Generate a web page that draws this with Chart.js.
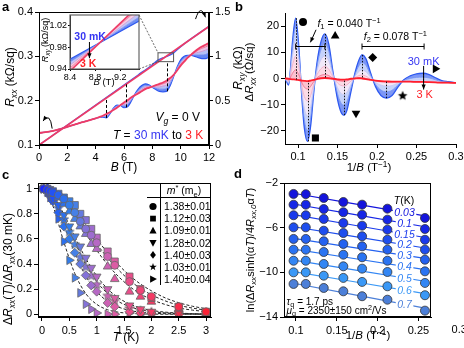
<!DOCTYPE html>
<html>
<head>
<meta charset="utf-8">
<script src="https://cdn.jsdelivr.net/npm/chart.js@4.4.1/dist/chart.umd.min.js"></script>
<style>
  html, body { margin: 0; padding: 0; background: #fff; }
  #fig { position: relative; width: 464px; height: 348px; overflow: hidden; background: #fff; }
  #fig canvas { position: absolute; }
  .tag { position: absolute; font: bold 13px/13px "Liberation Sans", Arial, sans-serif; color: #000; }
</style>
</head>
<body>
<div id="fig">
  <canvas id="cvA" width="250" height="175" style="left:0;top:0"></canvas>
  <canvas id="cvB" width="240" height="175" style="left:232px;top:0"></canvas>
  <canvas id="cvC" width="232" height="176" style="left:0;top:172px"></canvas>
  <canvas id="cvD" width="240" height="176" style="left:232px;top:172px"></canvas>
  <canvas id="cvI" width="130" height="82" style="left:40px;top:8px"></canvas>
  <div class="tag" style="left:2px;top:0">a</div>
  <div class="tag" style="left:235px;top:0">b</div>
  <div class="tag" style="left:2px;top:168px">c</div>
  <div class="tag" style="left:234px;top:167px">d</div>
</div>
<script>
'use strict';
const F = '"Liberation Sans", Arial, Helvetica, sans-serif';
Chart.defaults.font.family = F;
Chart.defaults.color = '#000';
const BLUE_TXT = '#3535f2', RED_TXT = '#ff2026';

// ── a: R_xx (left) and R_xy (right) vs B, 30 mK .. 3 K
const aB       = [0,1,2,3,4,4.25,4.5,4.75,5,5.25,5.5,5.75,6,6.25,6.5,6.75,7,7.25,7.5,7.75,8,8.25,8.5,8.75,9,9.25,9.5,9.75,10,10.25,10.5,10.75,11,11.25,11.5,11.75,12];
const aRxxRed  = [.127,.132,.141,.151,.160,.163,.166,.170,.174,.179,.184,.190,.196,.201,.207,.212,.216,.221,.226,.229,.232,.235,.238,.241,.245,.251,.258,.268,.279,.288,.297,.304,.311,.317,.322,.326,.330];
const aRxx16K  = [.127,.132,.141,.151,.160,.163,.166,.169,.173,.180,.185,.190,.194,.199,.206,.212,.218,.223,.228,.230,.232,.234,.235,.238,.241,.248,.257,.269,.281,.290,.298,.304,.309,.314,.318,.321,.325];
const aRxx08K  = [.127,.132,.141,.151,.160,.163,.165,.166,.172,.181,.186,.190,.191,.195,.203,.213,.220,.226,.231,.232,.231,.231,.231,.233,.235,.244,.256,.271,.284,.293,.299,.303,.307,.309,.311,.314,.317];
const aRxx03K  = [.127,.132,.141,.151,.160,.162,.164,.164,.171,.182,.188,.189,.188,.191,.201,.213,.223,.230,.234,.234,.231,.228,.226,.226,.228,.238,.255,.274,.288,.296,.301,.303,.303,.303,.303,.304,.308];
const aRxxBlue = [.127,.132,.141,.151,.160,.162,.163,.161,.170,.183,.190,.189,.184,.186,.198,.214,.226,.234,.238,.236,.230,.225,.221,.220,.221,.233,.254,.276,.292,.300,.302,.302,.300,.297,.295,.295,.298];
const aRxyB     = [0, 12];
const aRxyRed   = [0, 1.338];
const aRxyBlueB = [0, 7, 8, 8.4, 8.9, 9.4, 10, 12];
const aRxyBlue  = [0, 0.79, 0.905, 0.957, 0.992, 1.027, 1.11, 1.338];
const aDashB  = [4.73, 6.14, 9.04];
const aDashLo = [0.161, 0.185, 0.221];
const aDashHi = [0.527, 0.685, 0.94];
const aXTicks  = [0, 2, 4, 6, 8, 10, 12];
const aYTicks  = [0.1, 0.2, 0.3, 0.4];
const aY2Ticks = [0, 0.5, 1, 1.5];

// inset of a: R_xy around 8.4..9.5 T
const iB       = [8.4, 9.5];
const iRxyBlue = [0.958, 1.029];
const iRxy03K  = [0.953, 1.036];
const iRxy08K  = [0.947, 1.044];
const iRxy16K  = [0.942, 1.052];
const iRxyRed  = [0.936, 1.058];
const iXTicks  = [8.4, 8.8, 9.2];
const iYTicks  = [0.94, 0.98, 1.02];

// ── b: ΔR_xx vs 1/B
const bX    = [0.0835,0.086,0.088,0.090,0.093,0.097,0.101,0.105,0.108,0.112,0.116,0.120,0.124,0.129,0.134,0.139,0.144,0.150,0.154,0.158,0.162,0.167,0.172,0.177,0.181,0.186,0.192,0.198,0.205,0.212,0.219,0.226,0.234,0.242,0.250,0.258,0.266,0.274,0.282,0.290,0.300];
const bBlue = [0,-1.5,-2.5,2,14,23,12,-8,-19,-24,-18,-5,6,14,17,13,3,-8,-12.5,-14,-12,-5,2,7,9,7.5,2,-3,-6.5,-7.5,-6.5,-3.5,-0.5,1,1.8,2,1.5,0.3,-0.8,-1.2,-1.6];
const bT1   = [0,-1.3,-2.1,1.7,11.9,19.5,10.1,-6.7,-15.7,-19.9,-14.9,-4.2,4.6,10.9,13.3,10.2,2.3,-5.8,-9.1,-10.2,-8.7,-3.6,1.4,4.8,6.1,5.0,1.2,-2.2,-4.4,-5.1,-4.5,-2.6,-0.8,0.0,0.4,0.5,0.2,-0.5,-1.2,-1.4,-1.6];
const bT2   = [0,-0.9,-1.6,1.2,8.6,14.1,7.2,-5.0,-11.4,-14.3,-10.8,-3.1,2.9,7.1,8.6,6.6,1.5,-3.5,-5.5,-6.1,-5.2,-2.2,0.7,2.6,3.2,2.6,0.4,-1.4,-2.5,-2.9,-2.7,-1.8,-1.0,-0.8,-0.7,-0.6,-0.8,-1.1,-1.4,-1.5,-1.7];
const bT3   = [0,-0.6,-1.0,0.6,5.1,8.5,4.2,-3.2,-6.9,-8.6,-6.5,-2.0,1.4,3.7,4.6,3.5,0.7,-1.7,-2.6,-2.8,-2.4,-1.0,0.3,1.1,1.3,0.9,-0.2,-1.0,-1.4,-1.6,-1.6,-1.4,-1.1,-1.1,-1.2,-1.2,-1.3,-1.4,-1.6,-1.6,-1.7];
const bT4   = [0,-0.2,-0.5,0.2,2.0,3.3,1.4,-1.7,-3.3,-4.0,-3.0,-1.1,0.3,1.2,1.5,1.1,0.1,-0.7,-1.0,-1.1,-0.9,-0.3,0.1,0.3,0.3,0,-0.4,-0.8,-1.1,-1.2,-1.3,-1.2,-1.2,-1.2,-1.3,-1.3,-1.4,-1.5,-1.6,-1.6,-1.7];
const bRed  = [0,0,-0.1,-0.2,-0.3,-0.4,-0.6,-0.8,-0.9,-1.0,-0.8,-0.5,-0.2,0.1,0.2,0.1,-0.1,-0.3,-0.4,-0.4,-0.3,-0.1,0,0.1,0,-0.2,-0.5,-0.8,-1.0,-1.1,-1.2,-1.2,-1.2,-1.2,-1.3,-1.3,-1.4,-1.5,-1.6,-1.6,-1.7];
const bExtX    = [0.097, 0.112, 0.134, 0.158, 0.181, 0.212, 0.258];
const bExtBlue = [23, -24, 17, -14, 9, -7.5, 2];
const bExtRed  = [-0.4, -1.0, 0.2, -0.4, 0, -1.1, -1.3];
const bMarkX   = [0.1063, 0.122, 0.147, 0.1734, 0.1945, 0.2325, 0.2738];
const bMarkY   = [21.6, -22.7, 16.2, -13.3, 8.0, -6.4, 3.7];
const bXTicks  = [0.1, 0.15, 0.2, 0.25, 0.3];
const bYTicks  = [-20, -10, 0, 10, 20];

// ── c: normalised amplitude vs T
const cTemps   = [0.03,0.1,0.15,0.2,0.3,0.4,0.5,0.6,0.7,0.8,0.9,1.0,1.2,1.33,1.6,1.8,2.0,2.5,3.0];
const cCircle  = [1.00,0.99,0.98,0.97,0.95,0.92,0.87,0.81,0.74,0.68,0.63,0.57,0.46,0.39,0.26,0.19,0.14,0.06,0.02];
const cSquare  = [1.00,1.00,0.99,0.98,0.96,0.93,0.90,0.87,0.80,0.75,0.68,0.61,0.50,0.42,0.30,0.20,0.13,0.06,0.02];
const cUp      = [1.00,1.01,0.98,0.96,0.93,0.88,0.82,0.76,0.70,0.64,0.56,0.52,0.38,0.28,0.18,0.14,0.10,0.04,0.01];
const cDown    = [1.00,0.97,0.95,0.92,0.87,0.79,0.70,0.62,0.54,0.45,0.37,0.30,0.20,0.13,0.07,0.04,0.02,0.01,0.00];
const cDiamond = [1.00,0.98,0.94,0.90,0.81,0.70,0.60,0.49,0.40,0.31,0.23,0.18,0.09,0.06,0.02,0.01,0.01,0.00,0.00];
const cStar    = [1.00,0.98,0.96,0.93,0.85,0.76,0.66,0.56,0.46,0.38,0.31,0.24,0.15,0.11,0.05,0.03,0.02,0.01,0.00];
const cRight   = [1.00,0.97,0.93,0.91,0.76,0.58,0.43,0.29,0.17,0.08,0.04,0.01,0.00,0.00,0.01,0.00,0.00,0.00,0.00];
const cFitT       = [0,0.2,0.4,0.6,0.8,1.0,1.2,1.4,1.6,1.8,2.0,2.25,2.5,2.75,3.0];
const cFitCircle  = [1,.975,.903,.802,.687,.561,.450,.353,.271,.206,.155,.107,.072,.049,.033];
const cFitSquare  = [1,.978,.915,.823,.713,.600,.490,.393,.310,.241,.187,.131,.092,.064,.044];
const cFitUp      = [1,.970,.887,.771,.645,.510,.395,.300,.222,.162,.118,.078,.050,.033,.021];
const cFitDown    = [1,.943,.798,.617,.445,.306,.202,.130,.082,.051,.031,.017,.009,.005,.002];
const cFitDiamond = [1,.913,.712,.487,.304,.180,.103,.057,.031,.016,.009,.004,.002,.001,0];
const cFitStar    = [1,.934,.773,.576,.397,.260,.165,.101,.061,.036,.021,.011,.005,.003,.001];
const cFitRight   = [1,.862,.575,.325,.165,.079,.036,.016,.007,.003,.001,0,0,0,0];
const cKinds  = ['circle', 'rect', 'up', 'down', 'diamond', 'star', 'right'];
const cMass   = ['1.38\u00b10.01', '1.12\u00b10.03', '1.09\u00b10.01', '1.28\u00b10.02', '1.40\u00b10.03', '1.03\u00b10.01', '1.40\u00b10.04'];
const cColors = ['#1a28ff','#1c36fc','#1f44f8','#2252f5','#2762f2','#2c70ee','#327ceb','#4680e6','#647ae0','#8472d8','#9e6ccf','#b668c4','#cc62b4','#dc5ca4','#ea4e8a','#f04476','#f43a64','#f72d4c','#fa2236'];
const cXTicks = [0, 0.5, 1, 1.5, 2, 2.5, 3];
const cYTicks = [0, 0.2, 0.4, 0.6, 0.8, 1];

// ── d: Dingle plot
const dX    = [0.097, 0.112, 0.134, 0.158, 0.181, 0.212, 0.258];
const d003  = [-2.98,-3.00,-3.34,-3.70,-3.94,-4.30,-5.13];
const d01   = [-3.94,-3.94,-4.33,-4.62,-4.84,-5.28,-6.12];
const d015  = [-4.89,-4.89,-5.22,-5.58,-5.82,-6.18,-7.08];
const d02   = [-5.97,-5.97,-6.27,-6.48,-6.77,-7.08,-7.97];
const d03   = [-7.01,-7.01,-7.22,-7.46,-7.67,-7.97,-8.87];
const d04   = [-7.97,-7.97,-8.18,-8.42,-8.65,-8.96,-9.91];
const d05   = [-8.96,-8.96,-9.25,-9.46,-9.67,-9.97,-10.95];
const d06   = [-10.00,-10.00,-10.30,-10.50,-10.86,-11.25,-12.05];
const d07   = [-11.04,-11.04,-11.40,-11.70,-12.14,-12.45,-13.43];
const dFitX     = [0.097, 0.258];
const dFitStart = [-2.92,-3.88,-4.84,-5.92,-6.96,-7.92,-8.90,-9.93,-10.98];
const dFitEnd   = [-4.95,-5.92,-6.88,-7.82,-8.75,-9.75,-10.80,-11.90,-13.20];
const dTLabels  = ['0.03','0.1','0.15','0.2','0.3','0.4','0.5','0.6','0.7'];
const dColors   = ['#1414dc','#1626e6','#1a3aec','#1e4eee','#2462f0','#2a74f2','#3286f4','#3a98f6','#4c7fd8'];
const dXTicks   = [0.1, 0.15, 0.2, 0.25];
const dYTicks   = [-14, -10, -6, -2];

// ── helpers
function linAxis(o) {
  return {
    type: 'linear', position: o.pos, min: o.min, max: o.max,
    border: { display: true, color: '#000', width: 1 },
    grid: { display: true, drawOnChartArea: false, drawTicks: true, tickLength: o.tl || 4, color: '#000', lineWidth: 1 },
    ticks: { font: { family: F, size: o.fs || 11 }, color: '#000', padding: o.pad == null ? 2 : o.pad,
             maxRotation: 0, autoSkip: false, callback: v => String(v).replace('-', '\u2212') },
    title: { display: false },
    afterBuildTicks: s => { s.ticks = o.ticks.map(v => ({ value: v })); },
    afterFit: s => { if (o.w != null) s.width = o.w; if (o.h != null) s.height = o.h; }
  };
}
function opts(scales, padding) {
  return {
    responsive: false, animation: false, devicePixelRatio: 1, events: [],
    layout: { padding: Object.assign({ top: 0, right: 0, bottom: 0, left: 0 }, padding) },
    plugins: { legend: { display: false }, tooltip: { enabled: false } },
    scales
  };
}
function series(xs, ys, color, width, extra) {
  return Object.assign({
    data: xs.map((x, i) => ({ x, y: ys[i] })), borderColor: color, backgroundColor: color,
    borderWidth: width, pointRadius: 0, fill: false, cubicInterpolationMode: 'monotone'
  }, extra || {});
}
function starImg(color, r, edge) {
  const c = document.createElement('canvas');
  const s = Math.ceil(r * 2 + 2);
  c.width = c.height = s;
  const g = c.getContext('2d');
  g.translate(s / 2, s / 2 + 0.5);
  g.beginPath();
  for (let k = 0; k < 10; k++) {
    const rr = k % 2 ? r * 0.45 : r, a = -Math.PI / 2 + k * Math.PI / 5;
    g.lineTo(rr * Math.cos(a), rr * Math.sin(a));
  }
  g.closePath();
  g.fillStyle = color; g.fill();
  if (edge) { g.strokeStyle = edge; g.lineWidth = 0.7; g.stroke(); }
  return c;
}
// Chart.js point style for a marker kind
function pStyle(kind, color, edge) {
  switch (kind) {
    case 'circle':  return { ps: 'circle', rot: 0, r: 4 };
    case 'rect':    return { ps: 'rect', rot: 0, r: 5 };
    case 'up':      return { ps: 'triangle', rot: 0, r: 5 };
    case 'down':    return { ps: 'triangle', rot: 180, r: 5 };
    case 'right':   return { ps: 'triangle', rot: 90, r: 5 };
    case 'diamond': return { ps: 'rectRot', rot: 0, r: 4.5 };
    default:        return { ps: Array.isArray(color) ? color.map(c => starImg(c, 5, edge)) : starImg(color, 5, edge), rot: 0, r: 5 };
  }
}
function marker(ctx, kind, x, y, r, fill) {
  ctx.save();
  ctx.translate(x, y);
  ctx.fillStyle = fill;
  ctx.beginPath();
  if (kind === 'circle') ctx.arc(0, 0, r, 0, 2 * Math.PI);
  else if (kind === 'rect') ctx.rect(-r * 0.8, -r * 0.8, r * 1.6, r * 1.6);
  else if (kind === 'diamond') { ctx.moveTo(0, -r * 1.1); ctx.lineTo(r * 0.8, 0); ctx.lineTo(0, r * 1.1); ctx.lineTo(-r * 0.8, 0); }
  else if (kind === 'star') {
    for (let k = 0; k < 10; k++) {
      const rr = k % 2 ? r * 0.45 : r * 1.1, a = -Math.PI / 2 + k * Math.PI / 5;
      ctx.lineTo(rr * Math.cos(a), rr * Math.sin(a));
    }
  } else {
    ctx.rotate({ up: 0, down: Math.PI, right: Math.PI / 2 }[kind]);
    ctx.moveTo(0, -r * 1.1); ctx.lineTo(r, r * 0.8); ctx.lineTo(-r, r * 0.8);
  }
  ctx.closePath();
  ctx.fill();
  ctx.restore();
}
// text with italic / subscript / superscript pieces: [text, flags, colour]
function rich(ctx, segs, x, y, o) {
  o = o || {};
  const size = o.size || 11;
  ctx.save();
  ctx.translate(x, y);
  if (o.rot) ctx.rotate(o.rot);
  const parts = segs.map(([t, f = '', col]) => {
    const small = /[sS]/.test(f);
    const font = (f.includes('i') ? 'italic ' : '') + (f.includes('b') ? 'bold ' : '') + (small ? size * 0.72 : size) + 'px ' + F;
    ctx.font = font;
    return { t, font, col, w: ctx.measureText(t).width, dy: f.includes('s') ? size * 0.22 : f.includes('S') ? -size * 0.38 : 0 };
  });
  const total = parts.reduce((a, p) => a + p.w, 0);
  let cx = o.align === 'left' ? 0 : o.align === 'right' ? -total : -total / 2;
  ctx.textAlign = 'left';
  ctx.textBaseline = 'alphabetic';
  if (o.bg) { ctx.fillStyle = o.bg; ctx.fillRect(cx - 1.5, -size * 0.5, total + 3, size); }
  parts.forEach(p => {
    ctx.font = p.font;
    ctx.fillStyle = p.col || o.color || '#000';
    ctx.fillText(p.t, cx, size * 0.36 + p.dy);
    cx += p.w;
  });
  ctx.restore();
  return total;
}
function head(ctx, x, y, ang, len) {
  ctx.save();
  ctx.translate(x, y); ctx.rotate(ang);
  ctx.beginPath(); ctx.moveTo(0, 0); ctx.lineTo(-len, -len * 0.42); ctx.lineTo(-len, len * 0.42); ctx.closePath();
  ctx.fill();
  ctx.restore();
}
function arrow(ctx, x1, y1, x2, y2) {
  ctx.beginPath(); ctx.moveTo(x1, y1); ctx.lineTo(x2, y2); ctx.stroke();
  head(ctx, x2, y2, Math.atan2(y2 - y1, x2 - x1), 5);
}
function bentArrow(ctx, x0, y0, cx, cy, x1, y1) {
  ctx.beginPath(); ctx.moveTo(x0, y0); ctx.quadraticCurveTo(cx, cy, x1, y1); ctx.stroke();
  head(ctx, x1, y1, Math.atan2(y1 - cy, x1 - cx), 5);
}
function frame(ctx, ca) {
  ctx.strokeStyle = '#000'; ctx.lineWidth = 1; ctx.setLineDash([]);
  ctx.strokeRect(Math.round(ca.left) + 0.5, Math.round(ca.top) + 0.5, Math.round(ca.width) - 1, Math.round(ca.height) - 1);
}
const UP = -Math.PI / 2;

// ── panel a
const chartA = new Chart(document.getElementById('cvA'), {
  type: 'line',
  data: { datasets: [
    series(aRxyB, aRxyRed, '#ee3b66', 1.8, { yAxisID: 'y2' }),
    series(aRxyBlueB, aRxyBlue, '#3b5cf2', 1.4, { yAxisID: 'y2' }),
    series(aB, aRxxRed, '#ee3b66', 1.8, { fill: '+1', backgroundColor: 'rgba(240,110,150,0.55)' }),
    series(aB, aRxx16K, '#f07ea3', 1, { fill: '+1', backgroundColor: 'rgba(215,150,210,0.55)' }),
    series(aB, aRxx08K, '#c99ad8', 1, { fill: '+1', backgroundColor: 'rgba(130,150,240,0.6)' }),
    series(aB, aRxx03K, '#6f8cf2', 1, { fill: '+1', backgroundColor: 'rgba(50,95,240,0.75)' }),
    series(aB, aRxxBlue, '#2f56f0', 1.2)
  ] },
  options: opts({
    x:  linAxis({ pos: 'bottom', min: 0, max: 12, ticks: aXTicks, h: 30 }),
    y:  linAxis({ pos: 'left', min: 0.1, max: 0.4, ticks: aYTicks, w: 39 }),
    y2: linAxis({ pos: 'right', min: 0, max: 1.5, ticks: aY2Ticks, w: 41 })
  }, { top: 12 }),
  plugins: [{ id: 'annoA', afterDraw(c) {
    const { ctx, chartArea: ca } = c, sx = c.scales.x, sy = c.scales.y, s2 = c.scales.y2;
    ctx.save();
    frame(ctx, ca);
    ctx.setLineDash([3, 2]); ctx.strokeStyle = '#000'; ctx.lineWidth = 1;
    aDashB.forEach((b, i) => {
      const x = Math.round(sx.getPixelForValue(b)) + 0.5;
      ctx.beginPath(); ctx.moveTo(x, sy.getPixelForValue(aDashLo[i])); ctx.lineTo(x, s2.getPixelForValue(aDashHi[i])); ctx.stroke();
    });
    ctx.setLineDash([]);
    ctx.strokeStyle = '#555';
    const rx0 = sx.getPixelForValue(iB[0]), rx1 = sx.getPixelForValue(iB[1]);
    const ry0 = s2.getPixelForValue(1.04), ry1 = s2.getPixelForValue(0.94);
    ctx.strokeRect(rx0, ry0, rx1 - rx0, ry1 - ry0);
    ctx.strokeStyle = '#000'; ctx.fillStyle = '#000'; ctx.lineWidth = 1;
    bentArrow(ctx, sx.getPixelForValue(0.93), sy.getPixelForValue(0.137), sx.getPixelForValue(0.78), sy.getPixelForValue(0.176), sx.getPixelForValue(0.28), sy.getPixelForValue(0.154));
    bentArrow(ctx, sx.getPixelForValue(11.05), s2.getPixelForValue(1.42), sx.getPixelForValue(11.4), s2.getPixelForValue(1.6), sx.getPixelForValue(11.75), s2.getPixelForValue(1.44));
    rich(ctx, [['V', 'i'], ['g', 'is'], [' = 0 V']], sx.getPixelForValue(11.36), sy.getPixelForValue(0.163), { size: 12, align: 'right' });
    rich(ctx, [['T', 'i'], [' = '], ['30 mK', '', BLUE_TXT], [' to '], ['3 K', '', RED_TXT]], sx.getPixelForValue(11.6), sy.getPixelForValue(0.1226), { size: 12, align: 'right' });
    rich(ctx, [['R', 'i'], ['xx', 'is'], [' (k\u03a9/sq)']], 10, 77, { size: 12, rot: UP });
    rich(ctx, [['B', 'i'], [' (T)']], 124, 167, { size: 12 });
    rich(ctx, [['R', 'i'], ['xy', 'is'], [' (k\u03a9)']], 238, 68, { size: 12, rot: UP });
    ctx.restore();
  } }]
});

// ── inset of a
new Chart(document.getElementById('cvI'), {
  type: 'line',
  data: { datasets: [
    series(iB, iRxyRed, '#ee3b66', 1.6, { fill: '+1', backgroundColor: 'rgba(240,110,150,0.5)' }),
    series(iB, iRxy16K, '#f07ea3', 0.8, { fill: '+1', backgroundColor: 'rgba(235,160,200,0.5)' }),
    series(iB, iRxy08K, '#c99ad8', 0.8, { fill: '+1', backgroundColor: 'rgba(140,150,240,0.55)' }),
    series(iB, iRxy03K, '#6f8cf2', 0.8, { fill: '+1', backgroundColor: 'rgba(50,95,240,0.7)' }),
    series(iB, iRxyBlue, '#2f56f0', 1.2)
  ] },
  options: opts({
    x: linAxis({ pos: 'bottom', min: 8.4, max: 9.5, ticks: iXTicks, h: 21, fs: 9, tl: 2, pad: 1 }),
    y: linAxis({ pos: 'left', min: 0.94, max: 1.04, ticks: iYTicks, w: 30, fs: 9, tl: 2, pad: 1 })
  }, { top: 7, right: 31 }),
  plugins: [{ id: 'inset', beforeDraw(c) {
    const { ctx, chartArea: ca } = c;
    ctx.save(); ctx.fillStyle = '#fff'; ctx.fillRect(ca.left, ca.top, ca.width, ca.height); ctx.restore();
  }, afterDraw(c) {
    const { ctx, chartArea: ca } = c, sx = c.scales.x, sy = c.scales.y;
    ctx.save();
    ctx.strokeStyle = '#666'; ctx.lineWidth = 1.2; ctx.setLineDash([]);
    ctx.strokeRect(ca.left, ca.top, ca.width, ca.height);
    // connectors to the box drawn on panel a (canvas offset 40, 8)
    const ax = chartA.scales.x, a2 = chartA.scales.y2;
    ctx.lineWidth = 0.8; ctx.setLineDash([2, 1.5]); ctx.strokeStyle = '#444';
    ctx.beginPath();
    ctx.moveTo(ca.right, ca.top); ctx.lineTo(ax.getPixelForValue(iB[0]) - 40, a2.getPixelForValue(1.04) - 8);
    ctx.moveTo(ca.right, ca.bottom); ctx.lineTo(ax.getPixelForValue(iB[0]) - 40, a2.getPixelForValue(0.94) - 8);
    ctx.stroke();
    ctx.setLineDash([]);
    rich(ctx, [['30 mK', 'b']], sx.getPixelForValue(8.72), sy.getPixelForValue(1.0), { size: 10.5, color: BLUE_TXT });
    rich(ctx, [['3 K', 'b']], sx.getPixelForValue(8.69), sy.getPixelForValue(0.951), { size: 10.5, color: RED_TXT });
    ctx.strokeStyle = '#000'; ctx.fillStyle = '#000'; ctx.lineWidth = 1;
    arrow(ctx, sx.getPixelForValue(8.71), sy.getPixelForValue(0.99), sx.getPixelForValue(8.71), sy.getPixelForValue(0.96));
    rich(ctx, [['R', 'i'], ['xy', 'is'], [' (k\u03a9/sq)']], 5, 32, { size: 9, rot: UP });
    rich(ctx, [['B', 'i'], [' (T)']], 64, 74, { size: 9.5 });
    ctx.restore();
  } }]
});

// ── panel b
const bMarkSets = cKinds.map((k, i) => {
  const st = pStyle(k, '#000');
  return { data: [{ x: bMarkX[i], y: bMarkY[i] }], showLine: false, pointStyle: st.ps, pointRotation: st.rot,
           pointRadius: st.r, pointBackgroundColor: '#000', pointBorderWidth: 0, borderWidth: 0 };
});
new Chart(document.getElementById('cvB'), {
  type: 'line',
  data: { datasets: bMarkSets.concat([
    series(bX, bRed, '#ff1e2d', 1.8, { fill: '+1', backgroundColor: 'rgba(244,120,150,0.45)' }),
    series(bX, bT4, '#f1708f', 0.9, { fill: '+1', backgroundColor: 'rgba(246,175,200,0.45)' }),
    series(bX, bT3, '#f2b0c8', 0.9, { fill: '+1', backgroundColor: 'rgba(225,205,240,0.45)' }),
    series(bX, bT2, '#c2c6f4', 0.9, { fill: '+1', backgroundColor: 'rgba(140,165,245,0.5)' }),
    series(bX, bT1, '#6f92f6', 0.9, { fill: '+1', backgroundColor: 'rgba(55,95,240,0.65)' }),
    series(bX, bBlue, '#2a56f0', 1.3)
  ]) },
  options: opts({
    x: linAxis({ pos: 'bottom', min: 0.0835, max: 0.3, ticks: bXTicks, h: 31 }),
    y: linAxis({ pos: 'left', min: -25, max: 25, ticks: bYTicks, w: 53 })
  }, { top: 13, right: 16 }),
  plugins: [{ id: 'annoB', afterDraw(c) {
    const { ctx } = c, sx = c.scales.x, sy = c.scales.y;
    ctx.save();
    ctx.strokeStyle = '#111'; ctx.lineWidth = 1; ctx.setLineDash([1.5, 1.5]);
    bExtX.forEach((x, i) => {
      const px = Math.round(sx.getPixelForValue(x)) + 0.5;
      ctx.beginPath(); ctx.moveTo(px, sy.getPixelForValue(bExtBlue[i])); ctx.lineTo(px, sy.getPixelForValue(bExtRed[i])); ctx.stroke();
    });
    ctx.setLineDash([]);
    ctx.strokeStyle = '#000'; ctx.fillStyle = '#000';
    [[0.097, 0.134], [0.181, 0.2596]].forEach(([x0, x1]) => {
      const y = Math.round(sy.getPixelForValue(12.5)) + 0.5, p0 = sx.getPixelForValue(x0), p1 = sx.getPixelForValue(x1);
      ctx.beginPath();
      ctx.moveTo(p0, y); ctx.lineTo(p1, y);
      ctx.moveTo(p0, y - 3); ctx.lineTo(p0, y + 3);
      ctx.moveTo(p1, y - 3); ctx.lineTo(p1, y + 3);
      ctx.stroke();
    });
    arrow(ctx, sx.getPixelForValue(0.1228), sy.getPixelForValue(18.6), sx.getPixelForValue(0.1157), sy.getPixelForValue(13.8));
    arrow(ctx, sx.getPixelForValue(0.259), sy.getPixelForValue(4.8), sx.getPixelForValue(0.259), sy.getPixelForValue(-4.2));
    rich(ctx, [['f', 'i'], ['1', 's'], [' = 0.040 T'], ['\u22121', 'S']], sx.getPixelForValue(0.1245), sy.getPixelForValue(21.2), { size: 10.5, align: 'left' });
    rich(ctx, [['f', 'i'], ['2', 's'], [' = 0.078 T'], ['\u22121', 'S']], sx.getPixelForValue(0.1832), sy.getPixelForValue(16.2), { size: 10.5, align: 'left' });
    rich(ctx, [['30 mK']], sx.getPixelForValue(0.259), sy.getPixelForValue(6.8), { size: 11, color: BLUE_TXT });
    rich(ctx, [['3 K']], sx.getPixelForValue(0.2603), sy.getPixelForValue(-5.8), { size: 11, color: RED_TXT });
    rich(ctx, [['\u0394'], ['R', 'i'], ['xx', 'is'], [' (\u03a9/sq)']], 17, 72, { size: 11.5, rot: UP });
    rich(ctx, [['1/'], ['B', 'i'], [' (T'], ['\u22121', 'S'], [')']], 137, 167, { size: 11.5 });
    ctx.restore();
  } }]
});

// ── panel c
const cPointVals = [cCircle, cSquare, cUp, cDown, cDiamond, cStar, cRight];
const cFitVals = [cFitCircle, cFitSquare, cFitUp, cFitDown, cFitDiamond, cFitStar, cFitRight];
const cPointSets = cKinds.map((k, i) => {
  const st = pStyle(k, cColors, '#666');
  return { data: cTemps.map((t, j) => ({ x: t, y: cPointVals[i][j] })), showLine: false, pointStyle: st.ps, pointRotation: st.rot,
           pointRadius: st.r, pointBackgroundColor: cColors, pointBorderColor: '#666', pointBorderWidth: 0.8, borderWidth: 0 };
});
const cFitSets = cFitVals.map(v => series(cFitT, v, '#222', 1, { borderDash: [3, 2] }));
new Chart(document.getElementById('cvC'), {
  type: 'line',
  data: { datasets: cPointSets.concat(cFitSets) },
  options: opts({
    x: linAxis({ pos: 'bottom', min: -0.073, max: 3.09, ticks: cXTicks, h: 31, pad: 3 }),
    y: linAxis({ pos: 'left', min: -0.022, max: 1.046, ticks: cYTicks, w: 38 })
  }, { top: 11, right: 21 }),
  plugins: [{ id: 'annoC', afterDraw(c) {
    const { ctx, chartArea: ca } = c;
    ctx.save();
    frame(ctx, ca);
    ctx.strokeStyle = '#000'; ctx.lineWidth = 1;
    ctx.beginPath();
    ctx.moveTo(160.5, ca.top); ctx.lineTo(160.5, 113);
    ctx.moveTo(147, 25.5); ctx.lineTo(ca.right, 25.5);
    ctx.stroke();
    rich(ctx, [['m', 'i'], ['*', 'S'], [' (m'], ['e', 's'], [')']], 184, 18.5, { size: 10.5 });
    cKinds.forEach((k, i) => {
      const y = 34.5 + 12.1 * i;
      marker(ctx, k, 153, y, 3.6, '#000');
      rich(ctx, [[cMass[i]]], 164, y, { size: 10.5, align: 'left' });
    });
    rich(ctx, [['\u0394'], ['R', 'i'], ['xx', 'is'], ['('], ['T', 'i'], [')/\u0394'], ['R', 'i'], ['xx', 'is'], ['(30 mK)']], 8, 97, { size: 12, rot: UP });
    rich(ctx, [['T', 'i'], [' (K)']], 126, 165, { size: 12 });
    ctx.restore();
  } }]
});

// ── panel d
const dRows = [d003, d01, d015, d02, d03, d04, d05, d06, d07];
const dPointSets = dRows.map((r, i) => ({
  data: dX.map((x, j) => ({ x, y: r[j] })), showLine: false, pointStyle: 'circle', pointRadius: 4.5,
  pointBackgroundColor: dColors[i], pointBorderColor: '#333', pointBorderWidth: 0.8, borderWidth: 0
}));
const dFitSets = dRows.map((r, i) => series(dFitX, [dFitStart[i], dFitEnd[i]], dColors[i], 1.2));
new Chart(document.getElementById('cvD'), {
  type: 'line',
  data: { datasets: dPointSets.concat(dFitSets) },
  options: opts({
    x: linAxis({ pos: 'bottom', min: 0.0853, max: 0.2654, ticks: dXTicks, h: 31, pad: 3 }),
    y: linAxis({ pos: 'left', min: -14, max: -2, ticks: dYTicks, w: 52 })
  }, { top: 11, right: 41 }),
  plugins: [{ id: 'annoD', afterDatasetsDraw(c) {
    const { ctx } = c, sx = c.scales.x, sy = c.scales.y;
    const xl = 0.233, f = (xl - dFitX[0]) / (dFitX[1] - dFitX[0]);
    dTLabels.forEach((t, i) => {
      const v = dFitStart[i] + (dFitEnd[i] - dFitStart[i]) * f;
      rich(ctx, [[t, 'i']], sx.getPixelForValue(xl), sy.getPixelForValue(v), { size: 10.5, color: dColors[i], bg: '#fff' });
    });
  }, afterDraw(c) {
    const { ctx, chartArea: ca } = c, sx = c.scales.x, sy = c.scales.y;
    ctx.save();
    frame(ctx, ca);
    ctx.font = '11px ' + F; ctx.fillStyle = '#000'; ctx.textAlign = 'center'; ctx.textBaseline = 'top';
    ctx.fillText('0.3', sx.getPixelForValue(0.3), ca.bottom + 7);
    rich(ctx, [['T', 'i'], ['(K)']], sx.getPixelForValue(0.2324), sy.getPixelForValue(-3.52), { size: 10.5 });
    rich(ctx, [['\u03c4', 'i'], ['q', 's'], [' = 1.7 ps']], sx.getPixelForValue(0.0885), sy.getPixelForValue(-12.6), { size: 10, align: 'left' });
    rich(ctx, [['\u03bc', 'i'], ['q', 's'], [' = 2350\u00b1150 cm'], ['2', 'S'], ['/Vs']], sx.getPixelForValue(0.0885), sy.getPixelForValue(-13.4), { size: 10, align: 'left' });
    rich(ctx, [['ln(\u0394'], ['R', 'i'], ['xx', 'is'], ['sinh(\u03b1'], ['T', 'i'], [')/4'], ['R', 'i'], ['xx,0', 'is'], ['\u03b1'], ['T', 'i'], [')']], 18, 78, { size: 11, rot: UP });
    rich(ctx, [['1/'], ['B', 'i'], [' (T'], ['\u22121', 'S'], [')']], 136, 163, { size: 11.5 });
    ctx.restore();
  } }]
});
</script>
</body>
</html>
